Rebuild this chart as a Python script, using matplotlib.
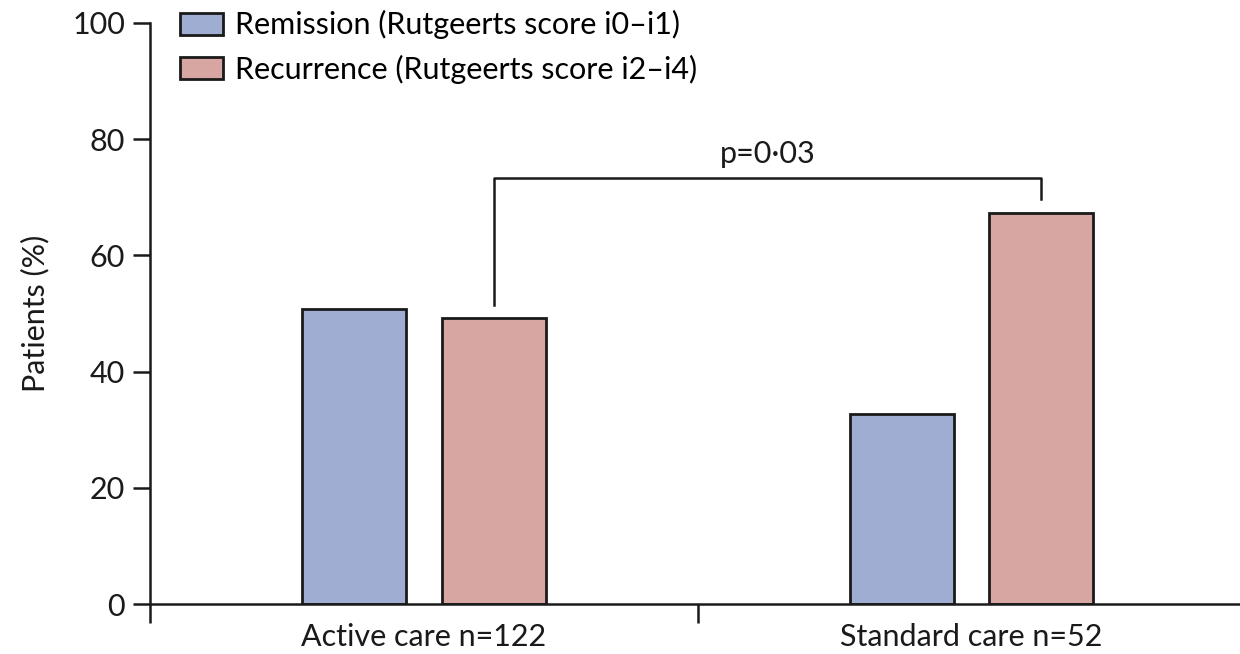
import matplotlib
matplotlib.use("Agg")
import matplotlib.pyplot as plt
import numpy as np

# data (% of patients)
groups = ["Active care n=122", "Standard care n=52"]
remission = [50.8, 32.7]
recurrence = [49.2, 67.3]
series_labels = ["Remission (Rutgeerts score i0\u2013i1)", "Recurrence (Rutgeerts score i2\u2013i4)"]
p_text = "p=0\u00b703"

plt.rcParams['font.family'] = ['Lato', 'DejaVu Sans']
blue = '#a0add3'
pink = '#d8a6a2'
ink = '#1a1a1a'
fs = 22

fig = plt.figure(figsize=(12.4, 6.54), dpi=100)
ax = fig.add_axes([150/1240, 1-604/654, 1-150/1240, (604-23)/654])

x = np.arange(len(groups))
w = 0.19
off = 0.1275
b1 = ax.bar(x - off, remission, w, color=blue, edgecolor=ink, linewidth=2, label=series_labels[0])
b2 = ax.bar(x + off, recurrence, w, color=pink, edgecolor=ink, linewidth=2, label=series_labels[1])

ax.set_xlim(-0.5, 1.49)
ax.set_ylim(0, 100)
ax.set_yticks([0, 20, 40, 60, 80, 100])
ax.set_xticks([-0.5, 0.5])
ax.set_xticklabels([])
for xi, g in zip(x, groups):
    ax.text(xi, -3.2, g, ha='center', va='top', fontsize=fs, color=ink)

for s in ['top', 'right']:
    ax.spines[s].set_visible(False)
for s in ['left', 'bottom']:
    ax.spines[s].set_linewidth(1.8)
    ax.spines[s].set_color(ink)
ax.tick_params(axis='y', length=12, width=1.8, labelsize=fs, pad=6, colors=ink)
ax.tick_params(axis='x', length=14, width=1.8, colors=ink)
ax.set_ylabel("Patients (%)", fontsize=fs, color=ink, labelpad=16)

# significance bracket
x_left = x[0] + off
x_right = x[1] + off
ax.plot([x_left, x_left, x_right, x_right], [51.5, 73.3, 73.3, 69.7], color=ink, lw=1.8, clip_on=False)
ax.text((x_left + x_right) / 2, 75.0, p_text, ha='center', va='bottom', fontsize=fs, color=ink)

leg = fig.legend(handles=[b1, b2], loc='upper left', bbox_to_anchor=(159/1240, 1 + 11/654),
                 frameon=False, fontsize=fs, handlelength=1.4, handleheight=0.75,
                 handletextpad=0.4, labelspacing=0.5, borderpad=0.2)

fig.savefig("out.png", dpi=100)
